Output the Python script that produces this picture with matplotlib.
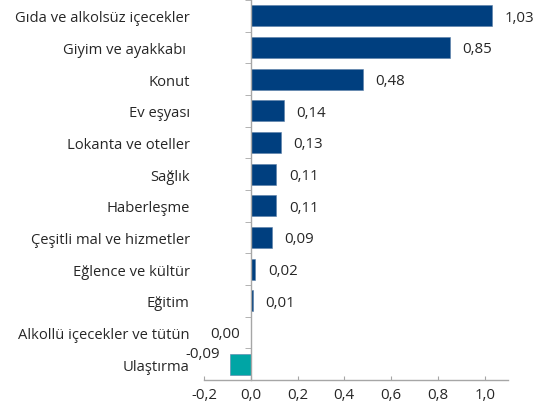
import numpy as np
import matplotlib.pyplot as plt
from matplotlib.ticker import FuncFormatter

# Data (top to bottom)
categories = ['Gıda ve alkolsüz içecekler', 'Giyim ve ayakkabı ', 'Konut', 'Ev eşyası',
              'Lokanta ve oteller', 'Sağlık', 'Haberleşme', 'Çeşitli mal ve hizmetler',
              'Eğlence ve kültür', 'Eğitim', 'Alkollü içecekler ve tütün', 'Ulaştırma']
values = [1.03, 0.85, 0.48, 0.14, 0.13, 0.11, 0.11, 0.09, 0.02, 0.01, 0.00, -0.09]
x_ticks = [-0.2, 0.0, 0.2, 0.4, 0.6, 0.8, 1.0]

blue = '#003f7f'
teal = '#00a5a5'
grey = '#a6a6a6'
text_col = '#262626'

plt.rcParams['font.family'] = ['Open Sans', 'DejaVu Sans']
fs_cat = 10.6
fs_num = 10.8

fig = plt.figure(figsize=(5.33, 4.14), dpi=100)
ax = fig.add_axes([204/533, 33/414, (508-204)/533, 380/414])

y = np.arange(len(categories))
colours = [teal if v < 0 else blue for v in values]
ax.barh(y, values, height=0.66, color=colours, edgecolor='#5b7fa8', linewidth=0.4)

fmt = lambda v: f'{v:.2f}'.replace('.', ',')
for yi, v in zip(y, values):
    if v > 0:
        ax.annotate(fmt(v), (v, yi), xytext=(9, -1), textcoords='offset points',
                    ha='left', va='center', fontsize=fs_num, color=text_col)
    elif v == 0:
        ax.annotate(fmt(v), (v, yi), xytext=(-8, -1), textcoords='offset points',
                    ha='right', va='center', fontsize=fs_num, color=text_col)
    else:
        ax.annotate(fmt(v), (v, yi), xytext=(-7, 8), textcoords='offset points',
                    ha='right', va='center', fontsize=fs_num, color=text_col)

ax.set_xlim(-0.2, 1.1)
ax.set_ylim(len(categories) - 0.5, -0.5)

ax.set_xticks(x_ticks)
ax.xaxis.set_major_formatter(FuncFormatter(lambda v, p: f'{v:.1f}'.replace('.', ',').replace('-0,0', '0,0')))
ax.tick_params(axis='x', direction='in', length=3, color=grey, labelsize=fs_num,
               labelcolor=text_col, pad=5)

ax.spines['left'].set_position(('data', 0))
ax.set_yticks(y)
ax.set_yticklabels(categories)
ax.set_yticks(np.arange(-0.5, len(categories), 1), minor=True)
ax.tick_params(axis='y', which='major', length=0, pad=44, labelsize=fs_cat, labelcolor=text_col)
ax.tick_params(axis='y', which='minor', direction='out', length=4, color=grey)

for s in ['top', 'right']:
    ax.spines[s].set_visible(False)
for s in ['left', 'bottom']:
    ax.spines[s].set_color(grey)
    ax.spines[s].set_linewidth(1.0)

fig.savefig('out.png', dpi=100)
